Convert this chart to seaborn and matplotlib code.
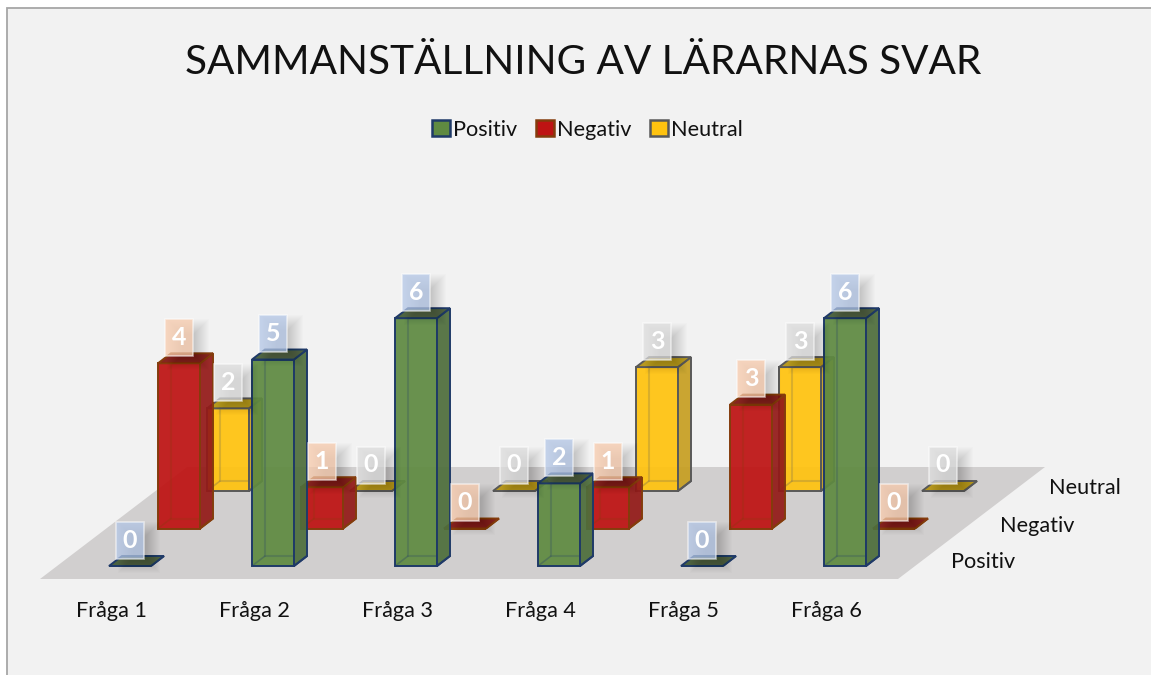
import matplotlib
matplotlib.use("Agg")
import matplotlib.pyplot as plt
import pandas as pd
import seaborn as sns
from matplotlib.colors import to_rgba
from matplotlib.patches import Patch, Polygon, Rectangle

# data
fragor = ["Fråga 1", "Fråga 2", "Fråga 3", "Fråga 4", "Fråga 5", "Fråga 6"]
positiv = [0, 5, 6, 2, 0, 6]
negativ = [4, 1, 0, 1, 3, 0]
neutral = [2, 0, 0, 3, 3, 0]

# geometry of the fake 3D view, in pixels of the target
W, H = 1151, 675
PX_X = 143.0   # one category
PX_Y = 41.3    # one answer
X0, Y0 = 130.0, 566.0  # centre of first front bar, baseline of front row
ROW_DX, ROW_DY = 49.0, 37.5  # shift from one row to the one behind it
DEPTH_DX, DEPTH_DY = 13.0, 10.0
BAR_W = 42.0

styles = {
    "Positiv": dict(front="#5F8A41", side="#4E6E3C", top="#425A34", edge="#1F3A68", box="#B4C7E7"),
    "Negativ": dict(front="#BE1313", side="#931A18", top="#7E1410", edge="#843C0C", box="#F8CBAD"),
    "Neutral": dict(front="#FFC30F", side="#C79F22", top="#B4920F", edge="#595959", box="#DDDDDD"),
}


def fx(px):
    return (px - X0) / PX_X


def fy(py):
    return (Y0 - py) / PX_Y


def add_depth(ax, x, h, base, st, z):
    # x and h in data units, side and top face of one bar
    dx, dy = DEPTH_DX / PX_X, DEPTH_DY / PX_Y
    w = BAR_W / PX_X
    l, r = x - w / 2, x + w / 2
    kw = dict(closed=True, edgecolor=st["edge"], linewidth=1.4, zorder=z)
    ax.add_patch(Polygon([(r, base), (r + dx, base + dy), (r + dx, base + h + dy), (r, base + h)],
                         facecolor=to_rgba(st["side"], 0.93), **kw))
    ax.add_patch(Polygon([(l, base + h), (l + dx, base + h + dy), (r + dx, base + h + dy), (r, base + h)],
                         facecolor=to_rgba(st["top"], 0.93), **kw))
    # back edges seen through the bar
    if h > 0:
        ax.plot([l + dx, l + dx, r], [base + h, base + dy, base + dy],
                color=st["edge"], alpha=0.22, lw=1.5, zorder=z + 0.5)
        ax.plot([l, l + dx], [base, base + dy], color=st["edge"], alpha=0.3, lw=1.2, zorder=z + 0.5)
        ax.plot([r, r + dx], [base, base + dy], color=st["edge"], lw=1.4, zorder=z + 0.5)


def add_label(ax, x, h, base, val, st):
    bw, bh = 28 / PX_X, 37 / PX_Y
    left = x - bw / 2
    bot = base + h + 7.5 / PX_Y
    # soft shadow, offset to the lower right of the box
    for g in range(-8, 8):
        ax.add_patch(Rectangle((left + (9 - g) / PX_X, bot - (7 + g) / PX_Y),
                               bw + 2 * g / PX_X, bh + 2 * g / PX_Y,
                               facecolor="black", alpha=0.012, linewidth=0, zorder=19))
    ax.add_patch(Rectangle((left, bot), bw, bh, facecolor=to_rgba(st["box"], 0.75),
                           edgecolor=to_rgba("white", 0.55), linewidth=1.2, zorder=20))
    ax.text(x, bot + bh / 2, str(val), ha="center", va="center", color="white",
            fontsize=18, fontweight="bold", zorder=21)


sns.set_theme(style="white")
plt.rcParams["font.family"] = ["Lato", "DejaVu Sans"]

fig = plt.figure(figsize=(W / 100, H / 100), dpi=100, facecolor="white")
fig.add_artist(Rectangle((6.5 / W, -0.02), 1.1, 1 - 7.5 / H + 0.02, transform=fig.transFigure,
                         facecolor="#F2F2F2", edgecolor="#A6A6A6", linewidth=1.3, zorder=-5))

# axes covers the floor area, bottom edge = front edge of the floor
ax_l, ax_r, ax_t, ax_b = 40, 1045, 200, 579
ax = fig.add_axes([ax_l / W, 1 - ax_b / H, (ax_r - ax_l) / W, (ax_b - ax_t) / H])
ax.patch.set_alpha(0)

ax.add_patch(Polygon([(fx(40), fy(579)), (fx(898), fy(579)), (fx(1045), fy(467)), (fx(187), fy(467))],
                     closed=True, facecolor="#D1CFCF", edgecolor="none", zorder=1))

rows = [("Neutral", neutral, 2, 2), ("Negativ", negativ, 1, 4), ("Positiv", positiv, 0, 6)]
for name, vals, depth, z in rows:
    st = styles[name]
    off_x = depth * ROW_DX / PX_X
    base = depth * ROW_DY / PX_Y
    df = pd.DataFrame({"x": [i + off_x for i in range(len(fragor))], "svar": vals})
    sns.barplot(data=df, x="x", y="svar", native_scale=True, ax=ax, errorbar=None,
                width=BAR_W / PX_X, bottom=base, facecolor=to_rgba(st["front"], 0.93),
                edgecolor=st["edge"], linewidth=1.4, zorder=z)
    for i, v in enumerate(vals):
        add_depth(ax, i + off_x, v, base, st, z)
        add_label(ax, i + off_x, v, base, v, st)

ax.set_xlim(fx(ax_l), fx(ax_r))
ax.set_ylim(fy(ax_b), fy(ax_t))
ax.set_xlabel("")
ax.set_ylabel("")
ax.set_yticks([])
ax.set_xticks([i - 18.5 / PX_X for i in range(len(fragor))])
ax.set_xticklabels(fragor, fontsize=15.6, color="#111111")
ax.tick_params(axis="x", length=0, pad=16)
sns.despine(ax=ax, left=True, bottom=True)

# row names to the right of the floor
ax.text(fx(951), fy(562.5), "Positiv", fontsize=15.6, color="#111111", va="center", ha="left")
ax.text(fx(1000), fy(525.5), "Negativ", fontsize=15.6, color="#111111", va="center", ha="left")
ax.text(fx(1049), fy(488.5), "Neutral", fontsize=15.6, color="#111111", va="center", ha="left")

fig.text(583 / W, 1 - 62.5 / H, "SAMMANSTÄLLNING AV LÄRARNAS SVAR", ha="center", va="center",
         fontsize=29.2, color="#111111")

handles = [Patch(facecolor=styles[n]["front"], edgecolor=styles[n]["edge"], linewidth=1.8, label=n)
           for n in ["Positiv", "Negativ", "Neutral"]]
fig.legend(handles=handles, loc="center", bbox_to_anchor=(587.5 / W, 1 - 129.5 / H), ncol=3, frameon=False,
           fontsize=15.6, handlelength=0.82, handleheight=0.82, handletextpad=0.14, columnspacing=0.88,
           labelcolor="#111111")

fig.savefig("out.png", dpi=100, facecolor=fig.get_facecolor())
